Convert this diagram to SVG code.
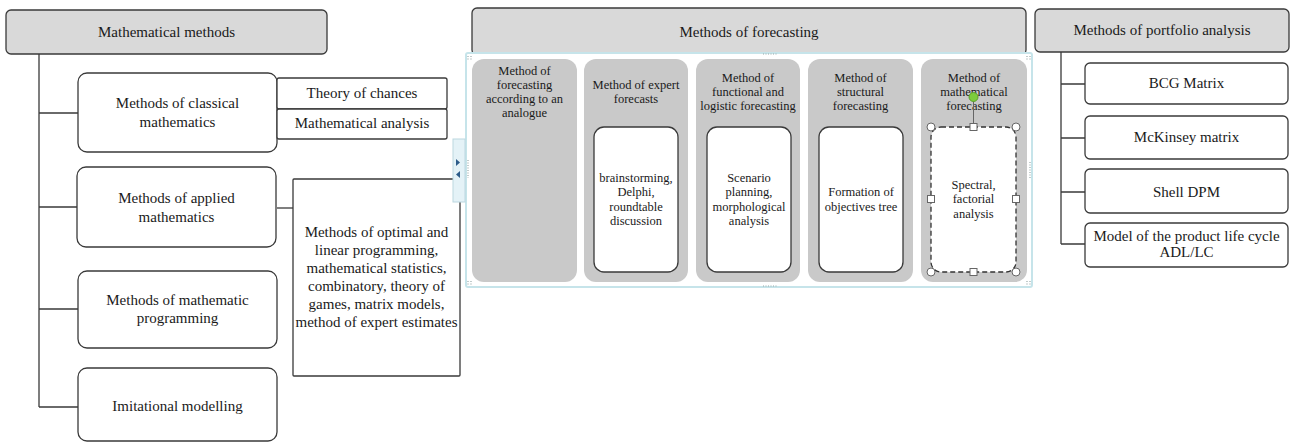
<svg xmlns="http://www.w3.org/2000/svg" width="1290" height="443" viewBox="0 0 1290 443">
<style>
.hdr{fill:#d9d9d9;stroke:#3a3a3a;stroke-width:1.3}
.box{fill:#fff;stroke:#3a3a3a;stroke-width:1.3}
.col{fill:#c9c9c9}
.t{font-family:"Liberation Serif","Times New Roman",serif;font-size:15px;fill:#1a1a1a;text-anchor:middle}
.s{font-size:12.5px}
.conn{stroke:#3a3a3a;stroke-width:1.3;fill:none}
.hdl{fill:#fff;stroke:#666;stroke-width:1}
.dots{stroke:#9aa;stroke-width:1.2;stroke-dasharray:1 1.5;fill:none}
</style>
<rect width="1290" height="443" fill="#fff"/>

<g id="connectors">
  <path class="conn" d="M39 54 V407 M39 113 H78 M39 207 H77 M39 309 H78 M39 407 H78"/>
  <path class="conn" d="M277 208 H293"/>
  <path class="conn" d="M1061 52 V244 M1061 84 H1085 M1061 138 H1085 M1061 192 H1085 M1061 244 H1085"/>
</g>

<g id="mathematical-methods">
  <rect class="hdr" x="6" y="10" width="321" height="44" rx="5"/>
  <text class="t" x="166.5" y="37">Mathematical methods</text>
</g>
<g id="classical">
  <rect class="box" x="78" y="73" width="199" height="79" rx="9"/>
  <text class="t" x="177.5" y="108">Methods of classical</text>
  <text class="t" x="177.5" y="127">mathematics</text>
</g>
<g id="theory-of-chances">
  <rect class="box" x="277" y="78" width="170" height="31" rx="2"/>
  <text class="t" x="362" y="98">Theory of chances</text>
</g>
<g id="mathematical-analysis">
  <rect class="box" x="277" y="109" width="170" height="30" rx="2"/>
  <text class="t" x="362" y="128">Mathematical analysis</text>
</g>
<g id="applied">
  <rect class="box" x="77" y="167" width="199" height="80" rx="9"/>
  <text class="t" x="176.5" y="203">Methods of applied</text>
  <text class="t" x="176.5" y="222">mathematics</text>
</g>
<g id="optimal">
  <rect class="box" x="293" y="179" width="167" height="197" rx="1"/>
  <text class="t" x="376.5" y="237">Methods of optimal and</text>
  <text class="t" x="376.5" y="255">linear programming,</text>
  <text class="t" x="376.5" y="273">mathematical statistics,</text>
  <text class="t" x="376.5" y="291">combinatory, theory of</text>
  <text class="t" x="376.5" y="309">games, matrix models,</text>
  <text class="t" x="376.5" y="327">method of expert estimates</text>
</g>
<g id="programming">
  <rect class="box" x="78" y="271" width="199" height="77" rx="9"/>
  <text class="t" x="177.5" y="305">Methods of mathematic</text>
  <text class="t" x="177.5" y="323">programming</text>
</g>
<g id="imitational">
  <rect class="box" x="78" y="368" width="199" height="73" rx="9"/>
  <text class="t" x="177.5" y="411">Imitational modelling</text>
</g>

<g id="methods-of-forecasting">
  <rect class="hdr" x="472" y="8" width="554" height="47" rx="5"/>
  <text class="t" x="749" y="37">Methods of forecasting</text>
</g>

<g id="forecast-frame">
  <rect x="466" y="53" width="566" height="234" fill="#fff" stroke="#c6e4ea" stroke-width="2" rx="2"/>
  <path class="dots" d="M763 54 H777 M763 286 H777 M1030 162 V178 M468 160 V178"/>
  <path class="dots" d="M468 56 V60 M471 56 V60 M1027 56 V60 M1030 56 V60 M468 281 V285 M471 281 V285 M1027 281 V285 M1030 281 V285"/>
</g>
<g id="collapse-handle">
  <rect x="453" y="139" width="12" height="63" fill="#e4f2f7" stroke="#bcd7e0" stroke-width="1"/>
  <path d="M456 159 L460 162.5 L456 166 Z" fill="#2d5c8a"/>
  <path d="M460 171 L456 174.5 L460 178 Z" fill="#2d5c8a"/>
</g>

<g id="analogue">
  <rect class="col" x="472" y="59" width="105" height="223" rx="12"/>
  <text class="t s" x="524.5" y="75">Method of</text>
  <text class="t s" x="524.5" y="89">forecasting</text>
  <text class="t s" x="524.5" y="103">according to an</text>
  <text class="t s" x="524.5" y="117">analogue</text>
</g>
<g id="expert">
  <rect class="col" x="584" y="59" width="104" height="223" rx="12"/>
  <text class="t s" x="636" y="89">Method of expert</text>
  <text class="t s" x="636" y="103">forecasts</text>
  <rect class="box" x="594" y="127" width="84" height="145" rx="10"/>
  <text class="t s" x="636" y="181.5">brainstorming,</text>
  <text class="t s" x="636" y="196">Delphi,</text>
  <text class="t s" x="636" y="210.5">roundtable</text>
  <text class="t s" x="636" y="225">discussion</text>
</g>
<g id="functional">
  <rect class="col" x="696" y="59" width="104" height="223" rx="12"/>
  <text class="t s" x="748" y="82">Method of</text>
  <text class="t s" x="748" y="96">functional and</text>
  <text class="t s" x="748" y="110">logistic forecasting</text>
  <rect class="box" x="707" y="127" width="84" height="145" rx="10"/>
  <text class="t s" x="749" y="181.5">Scenario</text>
  <text class="t s" x="749" y="196">planning,</text>
  <text class="t s" x="749" y="210.5">morphological</text>
  <text class="t s" x="749" y="225">analysis</text>
</g>
<g id="structural">
  <rect class="col" x="808" y="59" width="105" height="223" rx="12"/>
  <text class="t s" x="860.5" y="82">Method of</text>
  <text class="t s" x="860.5" y="96">structural</text>
  <text class="t s" x="860.5" y="110">forecasting</text>
  <rect class="box" x="819" y="127" width="84" height="145" rx="10"/>
  <text class="t s" x="861" y="196">Formation of</text>
  <text class="t s" x="861" y="210.5">objectives tree</text>
</g>
<g id="mathematical-forecasting">
  <rect class="col" x="921" y="59" width="106" height="223" rx="12"/>
  <text class="t s" x="974" y="82">Method of</text>
  <text class="t s" x="974" y="96">mathematical</text>
  <text class="t s" x="974" y="110">forecasting</text>
  <rect x="931" y="127" width="85" height="145" rx="10" fill="#fff" stroke="#333" stroke-width="1.3" stroke-dasharray="5 3"/>
  <text class="t s" x="973.5" y="188.5">Spectral,</text>
  <text class="t s" x="973.5" y="203">factorial</text>
  <text class="t s" x="973.5" y="217.5">analysis</text>
  <line x1="973.5" y1="101" x2="973.5" y2="123" stroke="#666" stroke-width="1"/>
  <circle cx="973.5" cy="97" r="4.5" fill="#7ccc3c" stroke="#5aa02a" stroke-width="1"/>
  <circle class="hdl" cx="931" cy="127" r="4"/>
  <circle class="hdl" cx="1016" cy="127" r="4"/>
  <circle class="hdl" cx="931" cy="272" r="4"/>
  <circle class="hdl" cx="1016" cy="272" r="4"/>
  <rect class="hdl" x="970" y="123.5" width="7" height="7"/>
  <rect class="hdl" x="970" y="268.5" width="7" height="7"/>
  <rect class="hdl" x="927.5" y="195.5" width="7" height="7"/>
  <rect class="hdl" x="1012.5" y="195.5" width="7" height="7"/>
</g>

<g id="portfolio">
  <rect class="hdr" x="1035" y="9" width="254" height="43" rx="5"/>
  <text class="t" x="1162" y="35">Methods of portfolio analysis</text>
</g>
<g id="bcg">
  <rect class="box" x="1085" y="63" width="203" height="41" rx="5"/>
  <text class="t" x="1186.5" y="88">BCG Matrix</text>
</g>
<g id="mckinsey">
  <rect class="box" x="1085" y="116" width="203" height="43" rx="5"/>
  <text class="t" x="1186.5" y="142">McKinsey matrix</text>
</g>
<g id="shell">
  <rect class="box" x="1085" y="169" width="203" height="44" rx="5"/>
  <text class="t" x="1186.5" y="197">Shell DPM</text>
</g>
<g id="life-cycle">
  <rect class="box" x="1085" y="223" width="203" height="44" rx="5"/>
  <text class="t" x="1186.5" y="241">Model of the product life cycle</text>
  <text class="t" x="1186.5" y="257">ADL/LC</text>
</g>
</svg>
